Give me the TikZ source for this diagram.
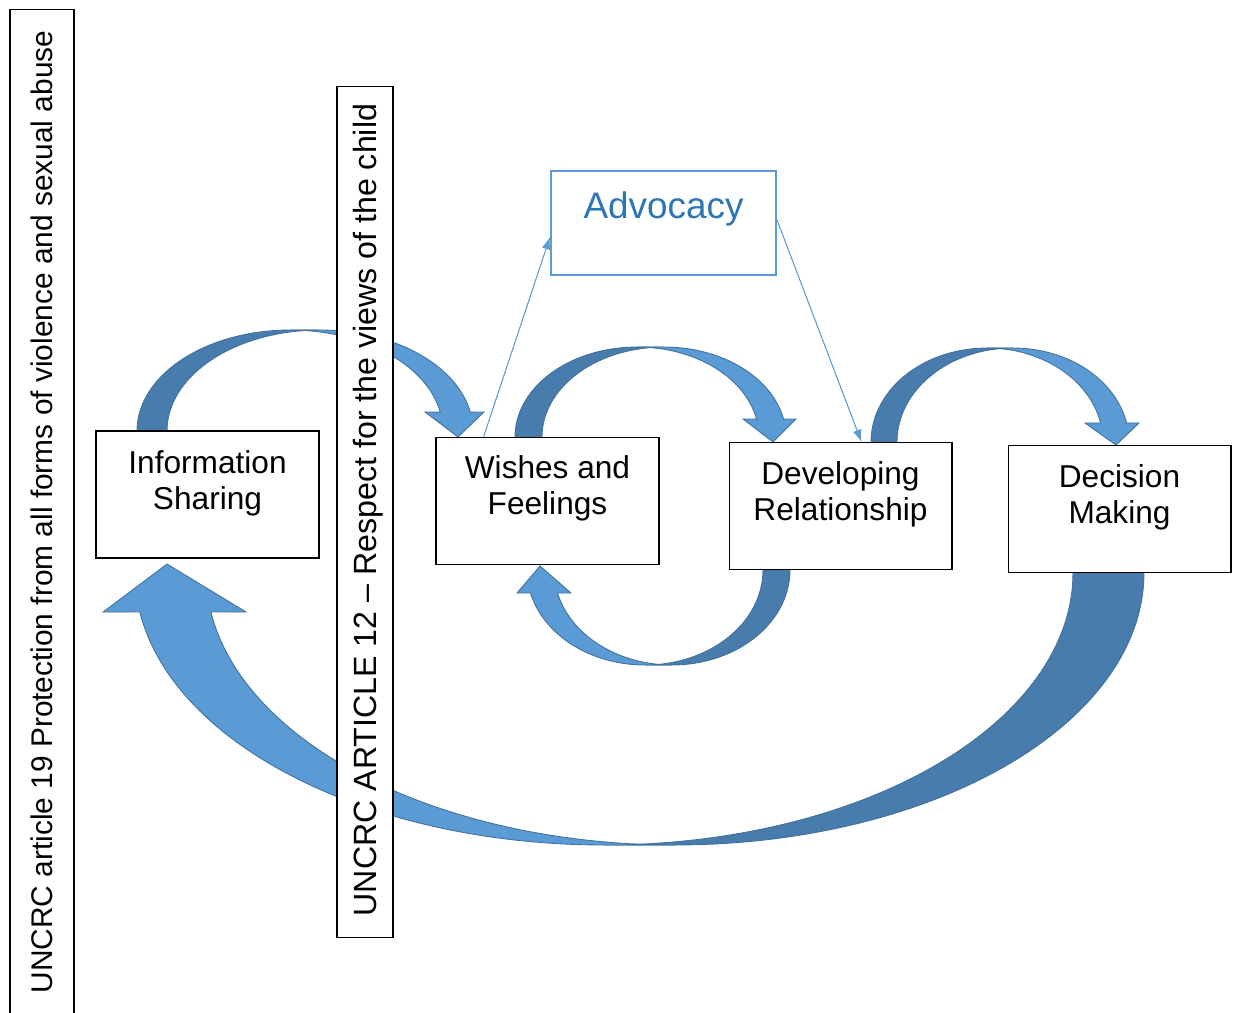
\documentclass[tikz,border=0pt]{standalone}
\usepackage{fontspec}
\setmainfont{Liberation Sans}
\usepackage{tikz}
\usetikzlibrary{calc,arrows.meta}
\definecolor{arrowlight}{RGB}{91,155,213}
\definecolor{arrowdark}{RGB}{72,124,172}
\definecolor{arrowedge}{RGB}{65,113,156}
\definecolor{advblue}{RGB}{46,117,182}

\begin{document}
\begin{tikzpicture}[x=0.02cm,y=-0.02cm,
  box/.style={draw=black,fill=white,line width=0.6pt,minimum width=4.46cm,minimum height=2.54cm},
  boxtext/.style={align=center,font=\fontsize{18}{20.4}\selectfont},
  frame/.style={draw=black,fill=white,line width=0.6pt,rotate=90,inner sep=0pt},
  dark/.style={fill=arrowdark,draw=arrowedge,line width=0.5pt},
  light/.style={fill=arrowlight,draw=arrowedge,line width=0.5pt},
  advline/.style={draw=arrowlight,line width=0.6pt,-{Latex[length=7pt,width=5pt]}}]
\useasboundingbox (0,0) rectangle (1235,1012);
\clip (0,0) rectangle (1235,1012);

% info -> wishes
\fill[dark] plot[domain=180:90,samples=40] ({290+153*cos(\x)},{431-101*sin(\x)}) -- plot[domain=90:180,samples=40] ({320+153*cos(\x)},{431-101*sin(\x)}) -- cycle;
\fill[light] plot[domain=90:10.8,samples=40] ({320+153*cos(\x)},{431-101*sin(\x)}) -- (484,412) -- (458,437) -- (425,412) -- plot[domain=10.8:90,samples=40] ({290+153*cos(\x)},{431-101*sin(\x)}) -- cycle;

% wishes -> developing
\fill[dark] plot[domain=180:90,samples=40] ({637+122*cos(\x)},{437-90*sin(\x)}) -- plot[domain=90:180,samples=40] ({664+122*cos(\x)},{437-90*sin(\x)}) -- cycle;
\fill[light] plot[domain=90:11.5,samples=40] ({664+122*cos(\x)},{437-90*sin(\x)}) -- (796,419) -- (773,442) -- (743,419) -- plot[domain=11.5:90,samples=40] ({637+122*cos(\x)},{437-90*sin(\x)}) -- cycle;

% developing -> decision
\fill[dark] plot[domain=180:90,samples=40] ({987+116*cos(\x)},{442-94*sin(\x)}) -- plot[domain=90:180,samples=40] ({1013+116*cos(\x)},{442-94*sin(\x)}) -- cycle;
\fill[light] plot[domain=90:11.7,samples=40] ({1013+116*cos(\x)},{442-94*sin(\x)}) -- (1139,423) -- (1116,445) -- (1085,423) -- plot[domain=11.7:90,samples=40] ({987+116*cos(\x)},{442-94*sin(\x)}) -- cycle;

% developing -> wishes
\fill[dark] plot[domain=0:90,samples=40] ({672+118*cos(\x)},{570+95*sin(\x)}) -- plot[domain=90:0,samples=40] ({645+118*cos(\x)},{570+95*sin(\x)}) -- cycle;
\fill[light] plot[domain=90:166,samples=40] ({645+118*cos(\x)},{570+95*sin(\x)}) -- (517,593) -- (540,566) -- (571,593) -- plot[domain=166:90,samples=40] ({672+118*cos(\x)},{570+95*sin(\x)}) -- cycle;

% decision -> info
\fill[dark] plot[domain=0:90,samples=60] ({675+469*cos(\x)},{573+272*sin(\x)}) -- plot[domain=90:0,samples=60] ({604+469*cos(\x)},{573+272*sin(\x)}) -- cycle;
\fill[light] plot[domain=90:171.76,samples=60] ({604+469*cos(\x)},{573+272*sin(\x)}) -- (103,612) -- (167,564) -- (246,612) -- plot[domain=171.76:90,samples=60] ({675+469*cos(\x)},{573+272*sin(\x)}) -- cycle;

\node (art19) at (42,512) [frame,minimum width=20.12cm,minimum height=1.28cm] {};
\node (art19t) at (42,512) [rotate=90,font=\fontsize{17}{20}\selectfont] {UNCRC article 19 Protection from all forms of violence and sexual abuse};
\node (art12) at (365,512) [frame,minimum width=17.04cm,minimum height=1.12cm] {};
\node (art12t) at (368,510) [rotate=90,font=\fontsize{18.3}{21}\selectfont] {UNCRC ARTICLE 12 – Respect for the views of the child};

\node (info) at (207.5,494.5) [box] {};
\node (wish) at (547.5,501) [box] {};
\node (dev) at (840.5,506) [box] {};
\node (dec) at (1119.5,509) [box] {};
\node (adv) at (663.5,223) [box,draw=arrowlight,line width=1.2pt,minimum width=4.5cm,minimum height=2.08cm] {};

\node (infot) at (207.5,483) [boxtext] {Information\\Sharing};
\node (wisht) at (547.5,488.5) [boxtext] {Wishes and\\Feelings};
\node (devt) at (840.5,494.5) [boxtext] {Developing\\Relationship};
\node (dect) at (1119.5,497) [boxtext] {Decision\\Making};
\node (advt) at (663.5,209) [font=\fontsize{21}{24}\selectfont,text=advblue] {Advocacy};

\draw[advline] ($(wish.north west)+(48,0)$) -- ($(adv.west)+(0,14)$);
\draw[advline] ($(adv.east)+(0,-3)$) -- ($(dev.north west)+(133,0)$);
\end{tikzpicture}
\end{document}
